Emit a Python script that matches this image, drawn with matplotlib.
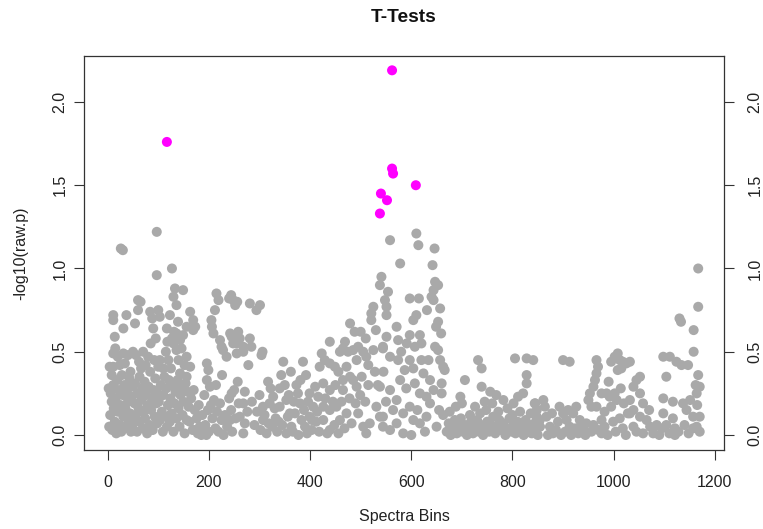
import numpy as np
import matplotlib
matplotlib.use("Agg")
import matplotlib.pyplot as plt

# -log10(raw p) per spectra bin
bins_a = [3, 5, 6, 8, 9, 11, 12, 14, 16, 17,
          19, 20, 22, 24, 25, 27, 28, 30, 31, 33,
          35, 36, 38, 40, 41, 43, 44, 46, 47, 49,
          4, 11, 11, 11, 11, 14, 26, 30, 31, 31,
          37, 20, 40, 45, 8, 24, 50, 2, 15, 34,
          51, 53, 54, 56, 58, 59, 61, 63, 64, 66,
          68, 69, 71, 73, 74, 76, 78, 79, 81, 83,
          84, 86, 88, 89, 91, 93, 94, 96, 98, 99,
          60, 60, 70, 80, 84, 90, 97, 97, 100, 100,
          62, 75, 92, 56, 66, 65, 88, 85, 95, 54]
logp_a = [0.05, 0.12, 0.25, 0.20, 0.03, 0.30, 0.16, 0.08, 0.22, 0.01,
          0.33, 0.14, 0.27, 0.06, 0.18, 0.02, 0.36, 0.24, 0.11, 0.30,
          0.16, 0.05, 0.26, 0.20, 0.09, 0.34, 0.13, 0.02, 0.23, 0.29,
          0.41, 0.41, 0.49, 0.69, 0.72, 0.59, 1.12, 1.11, 0.64, 0.49,
          0.72, 0.47, 0.48, 0.38, 0.36, 0.42, 0.50, 0.28, 0.52, 0.43,
          0.07, 0.19, 0.31, 0.12, 0.02, 0.25, 0.16, 0.35, 0.08, 0.21,
          0.28, 0.04, 0.14, 0.32, 0.10, 0.24, 0.01, 0.18, 0.29, 0.06,
          0.38, 0.15, 0.22, 0.03, 0.27, 0.11, 0.34, 0.19, 0.07, 0.25,
          0.81, 0.75, 0.50, 0.47, 0.74, 0.64, 1.22, 0.96, 0.75, 0.41,
          0.44, 0.42, 0.45, 0.48, 0.40, 0.80, 0.70, 0.55, 0.58, 0.67]

bins_b = [101, 103, 105, 107, 109, 110, 112, 114, 116, 117,
          119, 121, 123, 124, 126, 128, 130, 132, 134, 136,
          138, 140, 142, 144, 146, 148, 150, 152, 154, 156,
          103, 117, 120, 123, 127, 130, 130, 133, 136, 136,
          136, 127, 143, 143, 149, 149, 156, 156, 156, 163,
          163, 169, 169, 173, 103, 110, 115, 140, 125, 146,
          152, 118, 139, 131, 158, 160, 162, 165, 168, 170,
          172, 173, 176, 178, 180, 182, 185, 187, 189, 191,
          193, 195, 196, 196, 198, 199, 200, 202]
logp_b = [0.20, 0.09, 0.30, 0.14, 0.02, 0.24, 0.35, 0.11, 0.28, 0.05,
          0.18, 0.33, 0.08, 0.22, 0.13, 0.30, 0.02, 0.19, 0.26, 0.10,
          0.33, 0.16, 0.05, 0.24, 0.29, 0.12, 0.20, 0.01, 0.31, 0.09,
          0.71, 0.64, 0.45, 0.72, 1.00, 0.83, 0.55, 0.88, 0.78, 0.61,
          0.51, 0.58, 0.57, 0.37, 0.87, 0.60, 0.65, 0.47, 0.35, 0.74,
          0.41, 0.69, 0.63, 0.65, 0.45, 0.40, 0.50, 0.45, 0.40, 0.52,
          0.42, 0.56, 0.68, 0.62, 0.26, 0.17, 0.08, 0.22, 0.03, 0.27,
          0.15, 0.03, 0.10, 0.01, 0.18, 0.05, 0.00, 0.12, 0.02, 0.24,
          0.06, 0.00, 0.43, 0.33, 0.15, 0.39, 0.02, 0.29]

bins_c = [205, 206, 209, 212, 215, 219, 222, 225, 228, 235,
          240, 244, 248, 252, 256, 245, 250, 255, 255, 258,
          204, 207, 210, 213, 216, 219, 222, 225, 229, 232,
          236, 240, 244, 246, 250, 253, 257, 259, 214, 226,
          242, 248, 242, 245, 261, 268, 268, 278, 281, 284,
          281, 294, 301, 304, 261, 268, 268, 271, 271, 276,
          285, 290, 295, 300, 302, 307, 307, 310, 314, 317,
          318, 320, 322, 306]
logp_c = [0.69, 0.65, 0.61, 0.75, 0.85, 0.81, 0.57, 0.53, 0.51, 0.47,
          0.82, 0.84, 0.81, 0.78, 0.80, 0.59, 0.56, 0.55, 0.49, 0.62,
          0.18, 0.10, 0.21, 0.04, 0.14, 0.02, 0.19, 0.09, 0.00, 0.12,
          0.05, 0.22, 0.15, 0.02, 0.27, 0.10, 0.32, 0.19, 0.30, 0.36,
          0.61, 0.55, 0.09, 0.25, 0.58, 0.53, 0.50, 0.42, 0.58, 0.53,
          0.79, 0.75, 0.78, 0.48, 0.11, 0.19, 0.01, 0.26, 0.07, 0.14,
          0.20, 0.06, 0.14, 0.24, 0.03, 0.17, 0.09, 0.12, 0.01, 0.32,
          0.07, 0.19, 0.28, 0.50]

bins_d = [327, 340, 340, 347, 353, 353, 356, 360, 363, 370,
          373, 376, 380, 383, 386, 390, 399, 399, 406, 410,
          416, 419, 332, 335, 345, 366, 377, 394, 403, 412,
          325, 338, 350, 358, 368, 381, 388, 396, 404, 414,
          418, 330, 343, 362, 392,
          423, 426, 426, 426, 429, 439, 439, 439, 439, 439,
          449, 452, 456, 456, 459, 459, 465, 465, 465, 469,
          472, 472, 475, 479, 479, 485, 485, 488, 492, 495,
          495, 505, 505, 511, 511, 518, 521, 521, 525, 525,
          531, 538, 544, 544, 430, 434, 445, 448, 462, 468,
          478, 482, 490, 499, 502, 509, 515, 515, 528, 534,
          500, 510, 530, 492, 450]
logp_d = [0.23, 0.28, 0.17, 0.44, 0.21, 0.01, 0.11, 0.13, 0.05, 0.13,
          0.30, 0.25, 0.19, 0.09, 0.44, 0.05, 0.11, 0.25, 0.17, 0.29,
          0.23, 0.41, 0.10, 0.02, 0.06, 0.02, 0.00, 0.01, 0.03, 0.08,
          0.05, 0.08, 0.30, 0.24, 0.20, 0.33, 0.15, 0.20, 0.09, 0.14,
          0.02, 0.16, 0.36, 0.38, 0.36,
          0.49, 0.31, 0.17, 0.09, 0.45, 0.56, 0.43, 0.27, 0.15, 0.03,
          0.41, 0.17, 0.38, 0.01, 0.50, 0.09, 0.52, 0.33, 0.27, 0.56,
          0.41, 0.13, 0.50, 0.35, 0.67, 0.51, 0.33, 0.62, 0.29, 0.53,
          0.13, 0.50, 0.05, 0.47, 0.01, 0.07, 0.73, 0.69, 0.77, 0.51,
          0.17, 0.11, 0.52, 0.05, 0.22, 0.01, 0.20, 0.06, 0.20, 0.04,
          0.22, 0.07, 0.19, 0.24, 0.35, 0.20, 0.30, 0.42, 0.38, 0.30,
          0.62, 0.58, 0.63, 0.45, 0.30]

bins_e = [538, 554, 548, 551, 551, 558, 578, 597, 615, 610,
          614, 646, 642, 647, 653, 644, 640, 644, 631, 657,
          610, 604, 653, 649, 659, 571, 551, 544, 574, 591,
          597, 617, 607, 620, 647, 653, 657, 663, 666, 558,
          574, 597, 587, 604, 620, 634, 624, 607, 617, 637,
          660, 660, 538, 558, 571, 564, 584, 597, 604, 571,
          544, 558, 584, 617, 630, 637, 630, 644, 663, 541,
          590, 550, 578, 627, 650, 655, 600, 545, 612, 580]
logp_e = [0.90, 0.86, 0.81, 0.77, 0.72, 1.17, 1.03, 0.82, 0.82, 1.21,
          1.14, 1.12, 1.02, 0.92, 0.90, 0.87, 0.83, 0.81, 0.75, 0.76,
          0.72, 0.69, 0.68, 0.65, 0.61, 0.65, 0.59, 0.53, 0.57, 0.55,
          0.60, 0.60, 0.53, 0.55, 0.53, 0.51, 0.45, 0.41, 0.39, 0.47,
          0.45, 0.45, 0.39, 0.40, 0.45, 0.45, 0.37, 0.31, 0.25, 0.33,
          0.31, 0.25, 0.29, 0.27, 0.21, 0.15, 0.13, 0.17, 0.09, 0.07,
          0.11, 0.03, 0.01, 0.07, 0.11, 0.19, 0.23, 0.27, 0.12, 0.95,
          0.28, 0.20, 0.33, 0.02, 0.05, 0.15, 0.00, 0.38, 0.15, 0.50]

bins_f = [706, 697, 700, 732, 739, 739, 805, 828, 841, 828,
          828, 821, 811, 802, 782, 844, 848, 848, 726, 736,
          670, 674, 678, 682, 686, 690, 694, 698, 702, 706,
          710, 714, 718, 722, 726, 730, 734, 738, 742, 746,
          750, 754, 758, 762, 766, 770, 774, 778, 782, 786,
          790, 794, 798, 802, 806, 810, 814, 818, 822, 826,
          830, 834, 838, 842, 846, 850, 854, 676, 688, 716,
          748, 760, 772, 790, 800, 815, 836, 756, 768, 745,
          900, 913, 845, 861, 864, 867, 854, 854, 874, 880,
          893, 900, 907, 913, 920, 926, 933, 940, 946, 950,
          870, 886, 896, 904, 916, 924, 930, 936, 944, 956,
          890, 878, 910]
logp_f = [0.33, 0.23, 0.19, 0.45, 0.40, 0.29, 0.46, 0.46, 0.45, 0.36,
          0.31, 0.25, 0.23, 0.19, 0.21, 0.19, 0.15, 0.11, 0.17, 0.13,
          0.02, 0.07, 0.00, 0.04, 0.09, 0.01, 0.05, 0.10, 0.02, 0.06,
          0.00, 0.04, 0.08, 0.01, 0.05, 0.09, 0.02, 0.06, 0.00, 0.04,
          0.08, 0.02, 0.06, 0.11, 0.01, 0.05, 0.09, 0.03, 0.07, 0.00,
          0.04, 0.10, 0.02, 0.06, 0.01, 0.08, 0.03, 0.05, 0.00, 0.09,
          0.02, 0.06, 0.01, 0.04, 0.08, 0.00, 0.05, 0.14, 0.17, 0.12,
          0.15, 0.19, 0.14, 0.16, 0.12, 0.14, 0.13, 0.26, 0.24, 0.20,
          0.45, 0.44, 0.19, 0.21, 0.17, 0.11, 0.09, 0.05, 0.05, 0.01,
          0.17, 0.13, 0.09, 0.05, 0.13, 0.17, 0.09, 0.03, 0.07, 0.21,
          0.00, 0.03, 0.00, 0.02, 0.00, 0.04, 0.01, 0.06, 0.00, 0.02,
          0.08, 0.13, 0.15]

bins_g = [966, 969, 966, 963, 960, 953, 956, 966, 976, 986,
          992, 995, 1002, 1006, 976, 976, 995, 1002, 1008, 1012,
          1008, 1018, 1025, 1032, 1015, 960, 970, 982, 988, 999,
          1004, 1012, 1018, 1024, 1028, 1020, 1014, 1032, 1032, 1039,
          1039, 1039, 1045, 1052, 1052, 1052, 1058, 1058, 1065, 1072,
          1078, 1045, 1085, 1090, 1095, 1070, 982, 990, 1167, 1167,
          1130, 1133, 1158, 1158, 1167, 1147, 1098, 1111, 1124, 1134,
          1170, 1164, 1151, 1137, 1144, 1157, 1170, 1164, 1170, 1157,
          1098, 1117, 1098, 1117, 1121, 1121, 1104, 1110, 1128, 1140,
          1148, 1104, 1165, 1162]
logp_g = [0.45, 0.41, 0.37, 0.33, 0.29, 0.25, 0.17, 0.17, 0.25, 0.25,
          0.23, 0.17, 0.25, 0.21, 0.09, 0.01, 0.44, 0.47, 0.49, 0.45,
          0.39, 0.44, 0.43, 0.44, 0.40, 0.06, 0.03, 0.05, 0.00, 0.08,
          0.02, 0.10, 0.04, 0.00, 0.13, 0.19, 0.28, 0.21, 0.13, 0.29,
          0.15, 0.05, 0.33, 0.35, 0.25, 0.11, 0.19, 0.01, 0.09, 0.05,
          0.01, 0.02, 0.06, 0.00, 0.04, 0.15, 0.14, 0.32, 1.00, 0.77,
          0.70, 0.68, 0.63, 0.50, 0.36, 0.42, 0.47, 0.47, 0.44, 0.42,
          0.29, 0.25, 0.21, 0.19, 0.15, 0.11, 0.11, 0.05, 0.02, 0.04,
          0.22, 0.20, 0.13, 0.10, 0.04, 0.00, 0.06, 0.01, 0.02, 0.06,
          0.01, 0.35, 0.18, 0.30]

# bins with p < 0.05
peak_bins = [117, 538, 540, 552, 562, 562, 564, 609]
peak_logp = [1.76, 1.33, 1.45, 1.41, 2.19, 1.60, 1.57, 1.50]

bins = np.array(bins_a + bins_b + bins_c + bins_d + bins_e + bins_f + bins_g + peak_bins)
logp = np.array(logp_a + logp_b + logp_c + logp_d + logp_e + logp_f + logp_g + peak_logp)
assert len(bins) == len(logp), (len(bins), len(logp))

sig = logp > -np.log10(0.05)
colors = np.where(sig, "#FF00FF", "#A9A9A9")
order = np.argsort(sig, kind="stable")  # significant points on top

plt.rcParams["font.family"] = ["Liberation Sans", "DejaVu Sans"]

fig = plt.figure(figsize=(7.63, 5.29), dpi=100)
ax = fig.add_axes([84.3 / 763, 1 - 450 / 529, (724 - 84.3) / 763, (450 - 56) / 529])

ax.scatter(bins[order], logp[order], s=52, c=colors[order], linewidths=0, zorder=2)

ax.set_xlim(-46.2, 1218)
ax.set_ylim(-0.09, 2.276)
ax.set_xticks([0, 200, 400, 600, 800, 1000, 1200])
ax.set_yticks([0.0, 0.5, 1.0, 1.5, 2.0])
ax.set_yticklabels(["0.0", "0.5", "1.0", "1.5", "2.0"])

for sp in ax.spines.values():
    sp.set_linewidth(0.9)
    sp.set_color("#333333")

ax.tick_params(axis="both", direction="out", length=7.2, width=0.8, color="#333333",
               labelsize=11.5, labelcolor="#222222")
ax.tick_params(axis="x", pad=10.5)
ax.tick_params(axis="y", right=True, labelright=True, labelrotation=90)
ax.yaxis.set_tick_params(which="major", pad=4.8)
for t in ax.yaxis.get_major_ticks():
    t.set_pad(4.8)
    t.label2.set_va("center")
    t.label1.set_va("center")
for lab in ax.get_yticklabels(which="major"):
    lab.set_va("center")
# right side labels sit a little further out
for t in ax.yaxis.get_major_ticks():
    t.label2.set_transform(t.label2.get_transform() +
                           matplotlib.transforms.ScaledTranslation(4.9 / 72, 0, fig.dpi_scale_trans))

fig.text(404 / 763, 1 - 18 / 529, "T-Tests", ha="center", va="center",
         fontsize=13.8, fontweight="bold", color="#111111")
fig.text(404 / 763, 1 - 517 / 529, "Spectra Bins", ha="center", va="center",
         fontsize=11.5, color="#222222")
fig.text(21 / 763, 1 - 253 / 529, "-log10(raw.p)", ha="center", va="center",
         rotation=90, fontsize=11.5, color="#222222")

fig.savefig("out.png", dpi=100)
